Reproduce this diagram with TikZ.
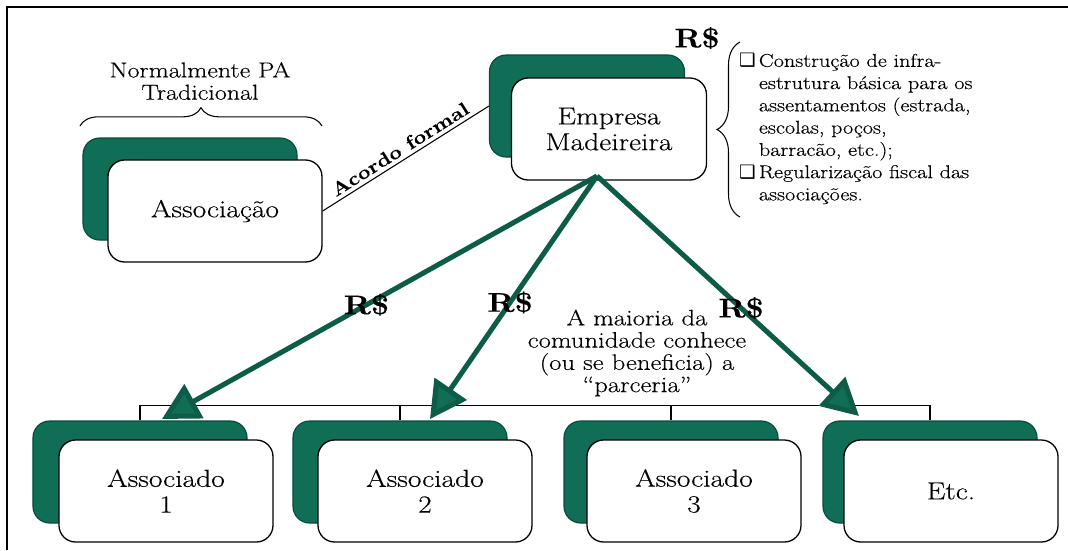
\documentclass[tikz,border=0pt]{standalone}
\usepackage{fontspec}
\setmainfont{Latin Modern Roman}[FakeStretch=1.2, FakeBold=0.3]
\newfontfamily\simbolo{DejaVu Sans}
\usetikzlibrary{arrows.meta}
\usetikzlibrary{decorations.pathreplacing}
\definecolor{mato}{RGB}{16,110,86}
\definecolor{matoescuro}{RGB}{9,76,60}
\definecolor{seta}{RGB}{12,92,72}
\tikzstyle{moldura}=[line width=1.6pt]
\tikzstyle{sombra}=[draw=matoescuro, fill=mato, rounded corners=0.5cm, minimum width=6.42cm, minimum height=3.06cm, line width=1pt]
\tikzstyle{caixa}=[draw, fill=white, rounded corners=0.5cm, minimum width=6.42cm, minimum height=3.06cm, line width=1.1pt, align=center, font=\fontsize{21}{22}\selectfont]
\tikzstyle{empresa sombra}=[sombra, minimum width=5.85cm]
\tikzstyle{empresa caixa}=[caixa, minimum width=5.85cm]
\tikzstyle{rotulo}=[align=center, font=\fontsize{18.5}{19}\selectfont]
\tikzstyle{maioria}=[align=center, font=\fontsize{19}{19}\selectfont]
\tikzstyle{lista}=[inner sep=0pt, font=\fontsize{15.8}{19}\selectfont]
\tikzstyle{valor}=[font=\fontsize{23}{24}\selectfont\bfseries]
\tikzstyle{acordo}=[sloped, above, font=\fontsize{16}{18}\selectfont\bfseries]
\tikzstyle{chave}=[decorate, decoration={brace, amplitude=0.55cm}, line width=0.9pt]
\tikzstyle{ligacao}=[line width=0.9pt]
\tikzstyle{repasse}=[draw=seta, line width=4.3pt, -{Triangle[length=1.1cm, width=1.15cm, fill=mato]}]

\begin{document}
\begin{tikzpicture}[x=0.03cm, y=-0.03cm]
  \useasboundingbox (0,0) rectangle (1068,550);
  \draw[moldura] (1068,7) -- (7,7) -- (7,550);

  \node[rotulo] (pa) at (200,81) {Normalmente PA\\Tradicional};
  \draw[chave] (80,126) -- (322,126);
  \node[sombra] (assoc back) at (190,189) {};
  \node[caixa] (assoc) at (215,211) {Associação};

  \node[empresa sombra] (emp back) at (587,106) {};
  \node[empresa caixa] (emp) at (609,129) {Empresa\\Madeireira};
  \node[valor] (rs topo) at (697,38) {R\$};
  \draw[chave, decoration={amplitude=0.69cm}] (740,217) -- (740,42);
  \node[lista, anchor=north west] (obras) at (739,51) {%
    \begin{tabular}{@{}l@{\,}l@{}}
      {\simbolo ❑} & Construção de infra-\\
      & estrutura básica para os\\
      & assentamentos (estrada,\\
      & escolas, poços,\\
      & barracão, etc.);\\
      {\simbolo ❑} & Regularização fiscal das\\
      & associações.
    \end{tabular}};

  \draw[ligacao] (assoc.east) -- node[acordo] {Acordo formal} (emp back.west);

  \node[sombra] (a1 back) at (140,472) {};
  \node[caixa] (a1) at (166,491) {Associado\\1};
  \node[sombra] (a2 back) at (400,472) {};
  \node[caixa] (a2) at (425,491) {Associado\\2};
  \node[sombra] (a3 back) at (671,472) {};
  \node[caixa] (a3) at (694,491) {Associado\\3};
  \node[sombra] (a4 back) at (930,472) {};
  \node[caixa] (a4) at (951,491) {Etc.};

  \draw[ligacao] (a1 back.north) -- ++(0,-15) -| (a4 back.north);
  \draw[ligacao] (a2 back.north) -- ++(0,-15);
  \draw[ligacao] (a3 back.north) -- ++(0,-15);

  \node[maioria] (parceria) at (637,353) {A maioria da\\comunidade conhece\\(ou se beneficia) a\\“parceria”};

  \coordinate (fork) at (597,176);
  \coordinate (alvo1) at (162,419);
  \coordinate (alvo2) at (430,419);
  \coordinate (alvo3) at (859,416);
  \draw[repasse] (fork) -- node[valor, pos=0.53] {R\$} (alvo1);
  \draw[repasse] (fork) -- node[valor, pos=0.52] {R\$} (alvo2);
  \draw[repasse] (fork) -- node[valor, pos=0.55] {R\$} (alvo3);
\end{tikzpicture}
\end{document}
